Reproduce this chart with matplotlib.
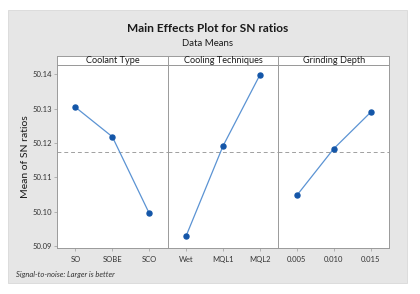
import matplotlib
matplotlib.use("Agg")
import matplotlib.pyplot as plt
from matplotlib.patches import Rectangle

plt.rcParams["font.family"] = ["Lato", "DejaVu Sans"]

factors = ["Coolant Type", "Cooling Techniques", "Grinding Depth"]
levels = [
    ["SO", "SOBE", "SCO"],
    ["Wet", "MQL1", "MQL2"],
    ["0.005", "0.010", "0.015"],
]
sn_means = [
    [50.1304, 50.1218, 50.0995],
    [50.0929, 50.1191, 50.1398],
    [50.1047, 50.1183, 50.1289],
]
grand_mean = 50.1173
y_ticks = [50.09, 50.10, 50.11, 50.12, 50.13, 50.14]

W, H = 420, 294
fig = plt.figure(figsize=(W / 100, H / 100), dpi=100)
fig.patch.set_facecolor("white")
fig.patches.append(Rectangle((8 / W, 1 - 283 / H), 399 / W, 273 / H,
                             transform=fig.transFigure, facecolor="#e6e6e6",
                             edgecolor="#d8d8d8", linewidth=0.6, zorder=-5))

fig.text(208 / W, 1 - 29 / H, "Main Effects Plot for SN ratios", ha="center",
         va="center", fontsize=8.6, fontweight="bold", color="#1a1a1a")
fig.text(208 / W, 1 - 43 / H, "Data Means", ha="center", va="center",
         fontsize=6.9, color="#1a1a1a")

left, right = 57, 389
top, strip_bot, bot = 56, 65, 248
pw = (right - left) / 3
edge = "#9a9a9a"

axes = []
for i in range(3):
    x0 = left + i * pw
    ax = fig.add_axes([x0 / W, 1 - bot / H, pw / W, (bot - strip_bot) / H])
    ax.set_facecolor("white")
    ax.axhline(grand_mean, color="#a0a0a0", linestyle=(0, (4, 3)), linewidth=0.7, zorder=1)
    ax.plot(range(3), sn_means[i], color="#5b93d3", linewidth=0.9, zorder=2)
    ax.plot(range(3), sn_means[i], linestyle="none", marker="o", markersize=3.6,
            color="#1456a8", zorder=3)
    ax.set_xlim(-0.5, 2.5)
    ax.set_ylim(50.0894, 50.1427)
    ax.set_xticks(range(3))
    ax.set_xticklabels(levels[i], fontsize=5.5, color="#333333")
    ax.tick_params(axis="x", length=2.5, width=0.5, color=edge, pad=3)
    for s in ax.spines.values():
        s.set_color(edge)
        s.set_linewidth(0.7)
    if i == 0:
        ax.set_yticks(y_ticks)
        ax.set_yticklabels([f"{v:.2f}" for v in y_ticks], fontsize=5.5, color="#333333")
        ax.tick_params(axis="y", length=2, width=0.5, color=edge, pad=1.5)
        ax.set_ylabel("Mean of SN ratios", fontsize=7.5, color="#1a1a1a")
        ax.yaxis.set_label_coords((30 - left) / pw, 0.5)
    else:
        ax.set_yticks([])
    axes.append(ax)

    sax = fig.add_axes([x0 / W, 1 - strip_bot / H, pw / W, (strip_bot - top) / H])
    sax.set_facecolor("white")
    sax.set_xticks([])
    sax.set_yticks([])
    for s in sax.spines.values():
        s.set_color(edge)
        s.set_linewidth(0.7)
    sax.text(0.5, 0.45, factors[i], ha="center", va="center", fontsize=6.6,
             color="#1a1a1a", transform=sax.transAxes)

fig.text(16 / W, 1 - 274 / H, "Signal-to-noise: Larger is better", ha="left",
         va="center", fontsize=5.5, style="italic", color="#333333")

fig.savefig("out.png", dpi=100, facecolor="white")
